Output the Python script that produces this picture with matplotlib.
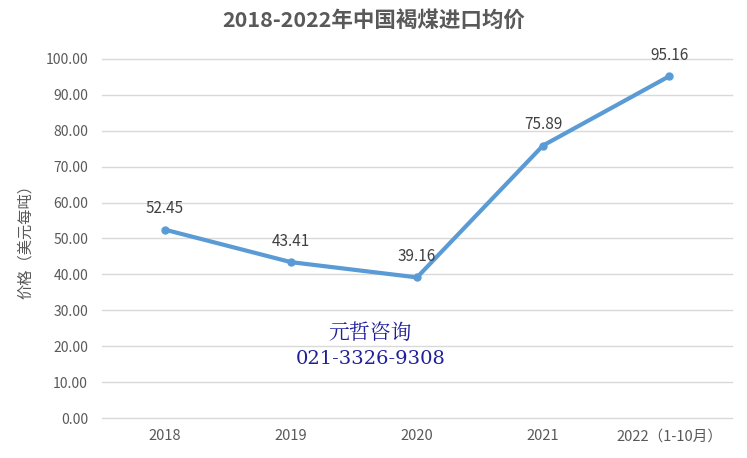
import matplotlib.pyplot as plt

plt.rcParams['font.family'] = ['Noto Sans CJK SC', 'DejaVu Sans']

categories = ['2018', '2019', '2020', '2021', '2022（1-10月）']
prices = [52.45, 43.41, 39.16, 75.89, 95.16]
y_ticks = [0, 10, 20, 30, 40, 50, 60, 70, 80, 90, 100]

fig = plt.figure(figsize=(7.47, 4.58), dpi=100)
ax = fig.add_axes([0.1365, 0.0873, 0.8435, 0.784])

x = list(range(len(categories)))
ax.plot(x, prices, color='#5B9BD5', linewidth=3, marker='o', markersize=5,
        solid_capstyle='round', zorder=3)

for xi, v in zip(x, prices):
    ax.annotate(f'{v:.2f}', (xi, v), xytext=(0, 9), textcoords='offset points',
                ha='center', va='bottom', fontsize=11, color='#404040')

ax.set_xlim(-0.5, len(categories) - 0.5)
ax.set_ylim(0, 100)
ax.set_xticks(x)
ax.set_xticklabels(categories, fontsize=10.5, color='#595959')
ax.set_yticks(y_ticks)
ax.set_yticklabels([f'{t:.2f}' for t in y_ticks], fontsize=10, color='#595959')
ax.tick_params(length=0, pad=10)
ax.tick_params(axis='x', pad=8)
ax.grid(axis='y', color='#D9D9D9', linewidth=1)
for line in ax.get_ygridlines():
    line.set_clip_on(False)
ax.set_axisbelow(True)
for s in ax.spines.values():
    s.set_visible(False)

ax.set_ylabel('价格（美元每吨）', fontsize=11, color='#595959', labelpad=8)
fig.suptitle('2018-2022年中国褐煤进口均价', fontsize=15.5, fontweight='bold',
             color='#595959', y=0.978)

fig.text(0.495, 0.272, '元哲咨询', fontsize=15, color='#1F1F9A',
         ha='center', va='center', family=['Noto Serif CJK SC', 'Noto Sans CJK SC'])
fig.text(0.496, 0.216, '021-3326-9308', fontsize=14, color='#1F1F9A',
         ha='center', va='center', family=['DejaVu Serif'])

fig.savefig('out.png', dpi=100)
